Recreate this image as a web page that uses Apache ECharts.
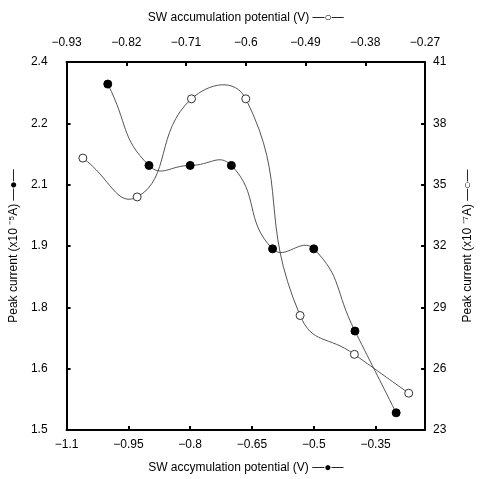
<!DOCTYPE html>
<html><head><meta charset="utf-8">
<script src="https://cdn.jsdelivr.net/npm/echarts@6/dist/echarts.min.js"></script>
<style>html,body{margin:0;padding:0;background:#fff}#c{width:482px;height:479px}</style>
</head><body><div id="c"></div>
<script>
// Filled series: bottom x axis (V), left y axis (x10^-5 A)
const filledX = [-1.0, -0.9, -0.8, -0.7, -0.6, -0.5, -0.4, -0.3];
const filledY = [2.346, 2.147, 2.147, 2.147, 1.943, 1.943, 1.742, 1.542];
// Open series: top x axis (V), right y axis (x10^-7 A)
const openX = [-0.9, -0.8, -0.7, -0.6, -0.5, -0.4, -0.3];
const openY = [36.3, 34.4, 39.2, 39.2, 28.6, 26.7, 24.8];

const bottomTicks = ['−1.1','−0.95','−0.8','−0.65','−0.5','−0.35'];
const topTicks = ['−0.93','−0.82','−0.71','−0.6','−0.49','−0.38','−0.27'];
const leftTicks = ['1.5','1.6','1.8','1.9','2.1','2.2','2.4'];
const rightTicks = ['23','26','29','32','35','38','41'];

const FONT = '"Liberation Sans", Arial, sans-serif';
const axisLineStyle = {show:true, lineStyle:{color:'#000', width:2}};
const tickStyle = {show:true, inside:true, length:4, lineStyle:{color:'#000', width:2}};
const labelBase = {color:'#000', fontSize:12, fontFamily:FONT};
const nameStyle = {color:'#000', fontSize:12, fontFamily:FONT};

function idxLabel(arr, min, step){
  return v => { const i = Math.round((v-min)/step); return (i>=0 && i<arr.length) ? arr[i] : ''; };
}

// Smooth curve segment (unclamped cardinal-style bezier) drawn via the axes' own coordinate mapping
function curveRenderer(xs, ys){
  const SM = 0.5;
  return function(params, api){
    const i = params.dataIndex;
    const n = xs.length;
    if (i >= n-1) return null;
    const P = k => api.coord([xs[Math.max(0,Math.min(n-1,k))], ys[Math.max(0,Math.min(n-1,k))]]);
    function ctrl(k){
      const p = P(k), pr = P(k-1), nx = P(k+1);
      const vx = nx[0]-pr[0], vy = nx[1]-pr[1];
      const l0 = Math.hypot(p[0]-pr[0], p[1]-pr[1]);
      const l1 = Math.hypot(nx[0]-p[0], nx[1]-p[1]);
      const r = (l0+l1) > 0 ? l1/(l0+l1) : 0.5;
      return {
        inX: p[0]-vx*SM*(1-r), inY: p[1]-vy*SM*(1-r),
        outX: p[0]+vx*SM*r, outY: p[1]+vy*SM*r
      };
    }
    const a = P(i), b = P(i+1);
    const ca = ctrl(i), cb = ctrl(i+1);
    return {
      type:'bezierCurve',
      shape:{x1:a[0], y1:a[1], x2:b[0], y2:b[1], cpx1:ca.outX, cpy1:ca.outY, cpx2:cb.inX, cpy2:cb.inY},
      style:{stroke:'#555', lineWidth:1, fill:null},
      silent:true
    };
  };
}

const chart = echarts.init(document.getElementById('c'), null, {renderer:'canvas'});
chart.setOption({
  animation:false,
  backgroundColor:'#fff',
  grid:{left:65, right:52, top:62, bottom:47, containLabel:false},
  xAxis:[
    {type:'value', position:'bottom', min:-1.1, max:-0.23, interval:0.15,
     axisLine:axisLineStyle, axisTick:tickStyle, splitLine:{show:false},
     axisLabel:Object.assign({margin:9, showMaxLabel:false, formatter:idxLabel(bottomTicks,-1.1,0.15)}, labelBase),
     name:'SW accymulation potential (V) —●—', nameLocation:'middle', nameGap:32, nameTextStyle:nameStyle},
    {type:'value', position:'top', min:-0.93, max:-0.27, interval:0.11,
     axisLine:axisLineStyle, axisTick:tickStyle, splitLine:{show:false},
     axisLabel:Object.assign({margin:13, formatter:idxLabel(topTicks,-0.93,0.11)}, labelBase),
     name:'SW accumulation potential (V) —○—', nameLocation:'middle', nameGap:38, nameTextStyle:nameStyle}
  ],
  yAxis:[
    {type:'value', position:'left', min:1.5, max:2.4, interval:0.15,
     axisLine:axisLineStyle, axisTick:tickStyle, splitLine:{show:false},
     axisLabel:Object.assign({margin:19, formatter:idxLabel(leftTicks,1.5,0.15)}, labelBase),
     name:'Peak current (x10 ⁻⁵A) —●—', nameLocation:'middle', nameGap:46, nameRotate:90, nameTextStyle:nameStyle},
    {type:'value', position:'right', min:23, max:41, interval:3,
     axisLine:axisLineStyle, axisTick:tickStyle, splitLine:{show:false},
     axisLabel:Object.assign({margin:8, formatter:idxLabel(rightTicks,23,3)}, labelBase),
     name:'Peak current (x10 ⁻⁷A) —○—', nameLocation:'middle', nameGap:37, nameRotate:90, nameTextStyle:nameStyle}
  ],
  series:[
    {type:'custom', coordinateSystem:'cartesian2d', xAxisIndex:1, yAxisIndex:1,
     renderItem:curveRenderer(openX, openY), data:openX.map((x,i)=>[x, openY[i]]), z:1},
    {type:'custom', coordinateSystem:'cartesian2d', xAxisIndex:0, yAxisIndex:0,
     renderItem:curveRenderer(filledX, filledY), data:filledX.map((x,i)=>[x, filledY[i]]), z:1},
    {type:'scatter', xAxisIndex:1, yAxisIndex:1,
     data:openX.map((x,i)=>[x, openY[i]]),
     symbol:'circle', symbolSize:8,
     itemStyle:{color:'#fff', borderColor:'#333', borderWidth:1, opacity:1}, z:3},
    {type:'scatter', xAxisIndex:0, yAxisIndex:0,
     data:filledX.map((x,i)=>[x, filledY[i]]),
     symbol:'circle', symbolSize:8,
     itemStyle:{color:'#000', borderColor:'#000', borderWidth:1, opacity:1}, z:4}
  ]
});
</script></body></html>
